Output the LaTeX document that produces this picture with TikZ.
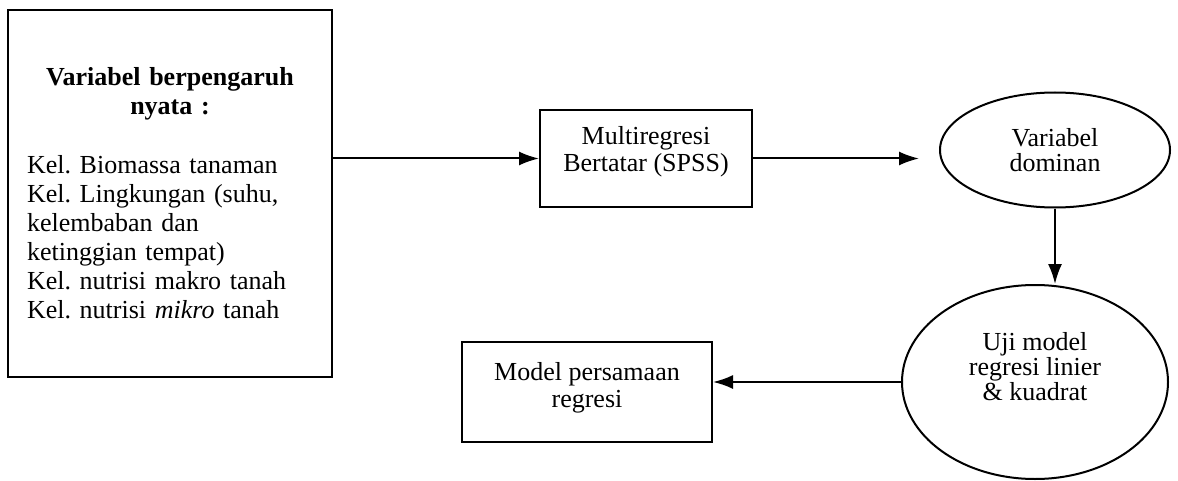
\documentclass[tikz,border=0pt]{standalone}
\usepackage{fontspec}
\setmainfont{Liberation Serif}
\usetikzlibrary{shapes.geometric,arrows.meta}
\frenchspacing
\begin{document}
\begin{tikzpicture}[x=0.5pt,y=-0.5pt,>={Latex[length=10pt,width=7pt]},line width=1pt,
    kotak/.style={draw,rectangle,inner sep=0pt,align=center,font=\fontsize{13}{13.5}\selectfont},
    elips/.style={draw,ellipse,inner sep=0pt,align=center,font=\fontsize{13}{12.5}\selectfont}]
    \useasboundingbox (0,0) rectangle (1178,481);
    \node[kotak,minimum width=162pt,minimum height=183.5pt,text width=143pt,align=left,
        font=\fontsize{13}{14.5}\selectfont] (var) at (170,193.5)
        {{\centering\bfseries Variabel berpengaruh\\ nyata :\par}\vspace{15pt}
        Kel. Biomassa tanaman\\ Kel. Lingkungan (suhu,\\ kelembaban dan\\ ketinggian tempat)\\
        Kel. nutrisi makro tanah\\ Kel. nutrisi \emph{mikro} tanah};
    \node[kotak,minimum width=106pt,minimum height=48.5pt,text depth=10pt] (multi) at (646,158.5)
        {Multiregresi\\ Bertatar (SPSS)};
    \node[elips,minimum width=115pt,minimum height=57.5pt] (domin) at (1055,150) {Variabel\\ dominan};
    \node[elips,minimum width=133pt,minimum height=97pt,text depth=16pt] (uji) at (1035,382)
        {Uji model\\ regresi linier\\ \& kuadrat};
    \node[kotak,minimum width=125pt,minimum height=50pt,text depth=7pt] (model) at (587,392)
        {Model persamaan\\ regresi};
    \coordinate (ujung) at ([xshift=-10pt]domin.west);
    \draw[->](var.east |- multi.west)--(multi.west);
    \draw[->](multi.east)--(multi.east -| ujung);
    \draw[->](domin.south)--(domin.south |- uji.north);
    \draw[->](uji.west)--(uji.west -| model.east);
\end{tikzpicture}
\end{document}
